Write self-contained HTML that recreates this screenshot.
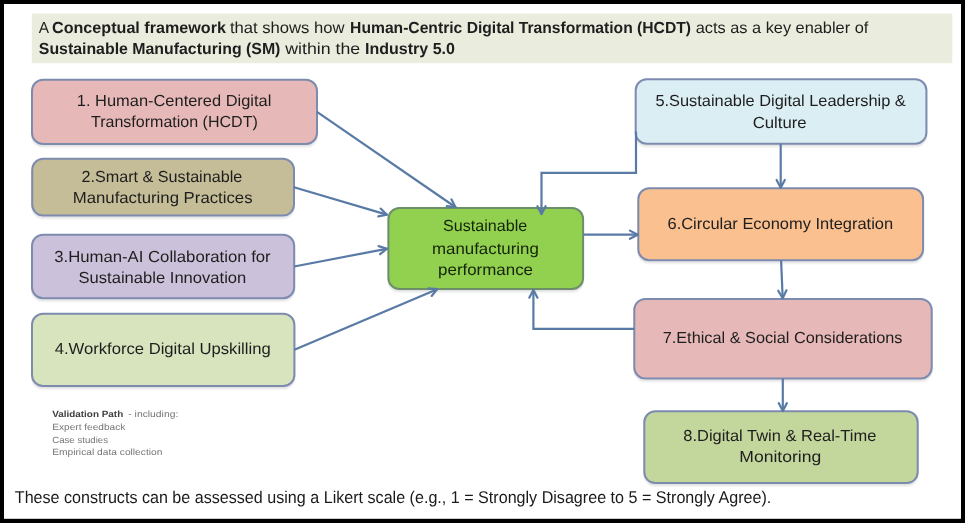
<!DOCTYPE html>
<html><head><meta charset="utf-8"><title>HCDT framework</title><style>
html,body{margin:0;padding:0;background:#fff;}
body{width:965px;height:523px;overflow:hidden;position:relative;}
svg{position:absolute;left:0;top:0;display:block;filter:blur(0.35px);}
text{font-family:"Liberation Sans",sans-serif;text-rendering:geometricPrecision;}
</style></head><body>
<svg width="965" height="523" viewBox="0 0 965 523">
<defs><filter id="sh" x="-5%" y="-10%" width="110%" height="130%"><feGaussianBlur in="SourceAlpha" stdDeviation="0.3 1.2"/><feOffset dx="0" dy="1.5" result="b"/><feComponentTransfer><feFuncA type="linear" slope="0.12"/></feComponentTransfer><feMerge><feMergeNode/><feMergeNode in="SourceGraphic"/></feMerge></filter></defs>
<rect x="0" y="0" width="965" height="523" fill="#000"/>
<rect x="4" y="4" width="957" height="514.8" fill="#fff"/>
<rect x="31.8" y="13.5" width="920.5" height="49.7" fill="#eaecdd"/>

<rect x="32" y="79.8" width="285.00" height="64.10" rx="11" fill="#e6b9b8" stroke="#7d8baf" stroke-width="2.0" filter="url(#sh)"/>
<rect x="32.2" y="158.7" width="261.80" height="56.90" rx="11" fill="#c4bd97" stroke="#7d8baf" stroke-width="2.0" filter="url(#sh)"/>
<rect x="32.0" y="234.7" width="262.20" height="63.60" rx="11" fill="#ccc1da" stroke="#7d8baf" stroke-width="2.0" filter="url(#sh)"/>
<rect x="32.0" y="313.7" width="262.40" height="72.30" rx="11" fill="#d7e4bd" stroke="#7d8baf" stroke-width="2.0" filter="url(#sh)"/>
<rect x="388.4" y="208.1" width="194.70" height="80.90" rx="11" fill="#92d050" stroke="#6c8f6a" stroke-width="2.0" filter="url(#sh)"/>
<rect x="635.7" y="79.2" width="290.70" height="64.50" rx="11" fill="#dbeef4" stroke="#7d8baf" stroke-width="2.0" filter="url(#sh)"/>
<rect x="638.3" y="188.3" width="284.80" height="71.90" rx="11" fill="#fac090" stroke="#7d8baf" stroke-width="2.0" filter="url(#sh)"/>
<rect x="634.3" y="298.9" width="297.40" height="79.60" rx="11" fill="#e6b9b8" stroke="#7d8baf" stroke-width="2.0" filter="url(#sh)"/>
<rect x="644.3" y="411.2" width="273.40" height="71.90" rx="11" fill="#c3d69b" stroke="#7d8baf" stroke-width="2.0" filter="url(#sh)"/>
<path d="M317,111.9 L456,207.5" fill="none" stroke="#5a7aa6" stroke-width="2.2"/>
<path d="M446.76,206.12 L455.51,207.16 L451.40,199.36" fill="none" stroke="#5a7aa6" stroke-width="2.2" stroke-linejoin="round" stroke-linecap="round"/>
<path d="M294,187.2 L387.5,214.9" fill="none" stroke="#5a7aa6" stroke-width="2.2"/>
<path d="M378.28,216.45 L386.92,214.73 L380.61,208.58" fill="none" stroke="#5a7aa6" stroke-width="2.2" stroke-linejoin="round" stroke-linecap="round"/>
<path d="M294.2,266.5 L387.6,248.6" fill="none" stroke="#5a7aa6" stroke-width="2.2"/>
<path d="M380.12,254.21 L387.01,248.71 L378.58,246.15" fill="none" stroke="#5a7aa6" stroke-width="2.2" stroke-linejoin="round" stroke-linecap="round"/>
<path d="M294.4,349.8 L437.8,288.9" fill="none" stroke="#5a7aa6" stroke-width="2.2"/>
<path d="M431.67,295.96 L437.25,289.13 L428.47,288.41" fill="none" stroke="#5a7aa6" stroke-width="2.2" stroke-linejoin="round" stroke-linecap="round"/>
<path d="M583.1,234.7 L638.3,234.7" fill="none" stroke="#5a7aa6" stroke-width="2.2"/>
<path d="M629.90,238.80 L637.70,234.70 L629.90,230.60" fill="none" stroke="#5a7aa6" stroke-width="2.2" stroke-linejoin="round" stroke-linecap="round"/>
<path d="M636,131.5 L636,172.9 L541.5,172.9 L541.5,214.6" fill="none" stroke="#5a7aa6" stroke-width="2.2"/>
<path d="M537.40,206.20 L541.50,214.00 L545.60,206.20" fill="none" stroke="#5a7aa6" stroke-width="2.2" stroke-linejoin="round" stroke-linecap="round"/>
<path d="M634.3,328.8 L533.4,328.8 L533.4,289.3" fill="none" stroke="#5a7aa6" stroke-width="2.2"/>
<path d="M537.50,297.70 L533.40,289.90 L529.30,297.70" fill="none" stroke="#5a7aa6" stroke-width="2.2" stroke-linejoin="round" stroke-linecap="round"/>
<path d="M780.7,143.7 L780.7,188.3" fill="none" stroke="#5a7aa6" stroke-width="2.2"/>
<path d="M776.60,179.90 L780.70,187.70 L784.80,179.90" fill="none" stroke="#5a7aa6" stroke-width="2.2" stroke-linejoin="round" stroke-linecap="round"/>
<path d="M781.1,260.2 L782.7,298.9" fill="none" stroke="#5a7aa6" stroke-width="2.2"/>
<path d="M778.26,290.68 L782.68,298.30 L786.45,290.34" fill="none" stroke="#5a7aa6" stroke-width="2.2" stroke-linejoin="round" stroke-linecap="round"/>
<path d="M782.8,378.5 L782.8,411.5" fill="none" stroke="#5a7aa6" stroke-width="2.2"/>
<path d="M778.70,403.10 L782.80,410.90 L786.90,403.10" fill="none" stroke="#5a7aa6" stroke-width="2.2" stroke-linejoin="round" stroke-linecap="round"/>
<text x="76.80" y="105.7" font-size="16" font-weight="400" fill="#1e1e1e" textLength="194.50" lengthAdjust="spacingAndGlyphs">1. Human-Centered Digital</text>
<text x="91.00" y="127.4" font-size="16" font-weight="400" fill="#1e1e1e" textLength="166.80" lengthAdjust="spacingAndGlyphs">Transformation (HCDT)</text>
<text x="81.40" y="181.8" font-size="16" font-weight="400" fill="#1e1e1e" textLength="160.90" lengthAdjust="spacingAndGlyphs">2.Smart &amp; Sustainable</text>
<text x="72.70" y="202.6" font-size="16" font-weight="400" fill="#1e1e1e" textLength="179.90" lengthAdjust="spacingAndGlyphs">Manufacturing Practices</text>
<text x="54.20" y="261.6" font-size="16" font-weight="400" fill="#1e1e1e" textLength="216.50" lengthAdjust="spacingAndGlyphs">3.Human-AI Collaboration for</text>
<text x="78.50" y="282.8" font-size="16" font-weight="400" fill="#1e1e1e" textLength="167.80" lengthAdjust="spacingAndGlyphs">Sustainable Innovation</text>
<text x="54.70" y="354.4" font-size="16" font-weight="400" fill="#1e1e1e" textLength="216.00" lengthAdjust="spacingAndGlyphs">4.Workforce Digital Upskilling</text>
<text x="443.10" y="231.4" font-size="16" font-weight="400" fill="#14240a" textLength="84.10" lengthAdjust="spacingAndGlyphs">Sustainable</text>
<text x="432.00" y="254.2" font-size="16" font-weight="400" fill="#14240a" textLength="106.80" lengthAdjust="spacingAndGlyphs">manufacturing</text>
<text x="438.10" y="274.6" font-size="16" font-weight="400" fill="#14240a" textLength="94.90" lengthAdjust="spacingAndGlyphs">performance</text>
<text x="655.40" y="105.6" font-size="16" font-weight="400" fill="#1e1e1e" textLength="250.40" lengthAdjust="spacingAndGlyphs">5.Sustainable Digital Leadership &amp;</text>
<text x="752.70" y="128.4" font-size="16" font-weight="400" fill="#1e1e1e" textLength="54.00" lengthAdjust="spacingAndGlyphs">Culture</text>
<text x="667.50" y="228.7" font-size="16" font-weight="400" fill="#1e1e1e" textLength="225.60" lengthAdjust="spacingAndGlyphs">6.Circular Economy Integration</text>
<text x="662.70" y="343.4" font-size="16" font-weight="400" fill="#1e1e1e" textLength="239.80" lengthAdjust="spacingAndGlyphs">7.Ethical &amp; Social Considerations</text>
<text x="683.30" y="441.4" font-size="16" font-weight="400" fill="#1e1e1e" textLength="193.00" lengthAdjust="spacingAndGlyphs">8.Digital Twin &amp; Real-Time</text>
<text x="739.30" y="462.4" font-size="16" font-weight="400" fill="#1e1e1e" textLength="81.90" lengthAdjust="spacingAndGlyphs">Monitoring</text>
<text x="38.80" y="32.7" font-size="16" font-weight="400" fill="#1e1e1e" textLength="10.30" lengthAdjust="spacingAndGlyphs">A</text>
<text x="52.00" y="32.7" font-size="16" font-weight="700" fill="#1e1e1e" textLength="173.90" lengthAdjust="spacingAndGlyphs">Conceptual framework</text>
<text x="229.90" y="32.7" font-size="16" font-weight="400" fill="#1e1e1e" textLength="114.70" lengthAdjust="spacingAndGlyphs">that shows how</text>
<text x="350.10" y="32.7" font-size="16" font-weight="700" fill="#1e1e1e" textLength="340.90" lengthAdjust="spacingAndGlyphs">Human-Centric Digital Transformation (HCDT)</text>
<text x="695.70" y="32.7" font-size="16" font-weight="400" fill="#1e1e1e" textLength="172.60" lengthAdjust="spacingAndGlyphs">acts as a key enabler of</text>
<text x="38.80" y="54.4" font-size="16" font-weight="700" fill="#1e1e1e" textLength="241.60" lengthAdjust="spacingAndGlyphs">Sustainable Manufacturing (SM)</text>
<text x="285.20" y="54.4" font-size="16" font-weight="400" fill="#1e1e1e" textLength="75.00" lengthAdjust="spacingAndGlyphs">within the</text>
<text x="365.00" y="54.4" font-size="16" font-weight="700" fill="#1e1e1e" textLength="89.90" lengthAdjust="spacingAndGlyphs">Industry 5.0</text>
<text x="52.20" y="416.8" font-size="9" font-weight="700" fill="#404040" textLength="71.00" lengthAdjust="spacingAndGlyphs">Validation Path</text>
<text x="128.30" y="416.8" font-size="9" font-weight="400" fill="#767676" textLength="50.00" lengthAdjust="spacingAndGlyphs">- including:</text>
<text x="52.20" y="430.4" font-size="9" font-weight="400" fill="#767676" textLength="73.20" lengthAdjust="spacingAndGlyphs">Expert feedback</text>
<text x="52.20" y="442.6" font-size="9" font-weight="400" fill="#767676" textLength="55.80" lengthAdjust="spacingAndGlyphs">Case studies</text>
<text x="52.20" y="455.4" font-size="9" font-weight="400" fill="#767676" textLength="110.20" lengthAdjust="spacingAndGlyphs">Empirical data collection</text>
<text x="14.80" y="502.8" font-size="17" font-weight="400" fill="#1a1a1a" textLength="756.50" lengthAdjust="spacingAndGlyphs">These constructs can be assessed using a Likert scale (e.g., 1 = Strongly Disagree to 5 = Strongly Agree).</text>
</svg></body></html>
